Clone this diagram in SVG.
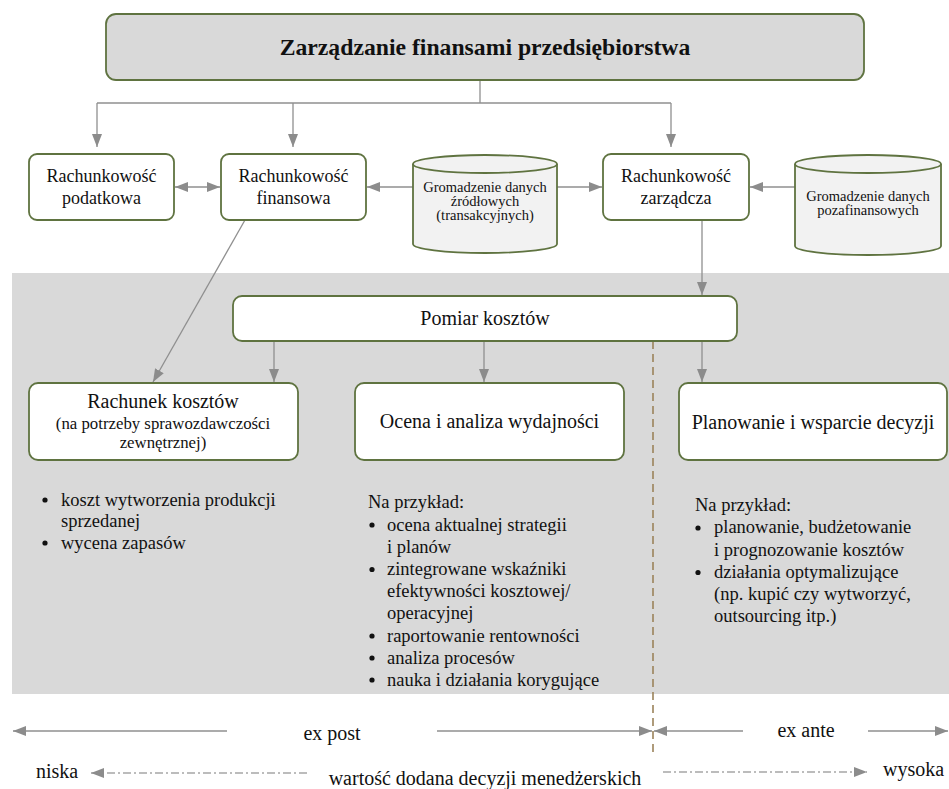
<svg xmlns="http://www.w3.org/2000/svg" width="949" height="789" viewBox="0 0 949 789" font-family="'Liberation Serif', 'DejaVu Serif', serif">
<defs>
<marker id="ah" viewBox="0 0 13 10" refX="13" refY="5" markerWidth="13" markerHeight="10" markerUnits="userSpaceOnUse" orient="auto-start-reverse">
<path d="M0,0 L13,5 L0,10 z" fill="#8c8c8c"/>
</marker>
<style>
text{font-family:'Liberation Serif','DejaVu Serif',serif;fill:#111;}
.box{fill:#fff;stroke:#5f7340;stroke-width:1.8;}
.cyl{fill:#f2f2f2;stroke:#5f7340;stroke-width:1.8;}
.c{fill:none;stroke:#8f8f8f;stroke-width:1.3;}
.dd{fill:none;stroke:#a6a6a6;stroke-width:1.3;stroke-dasharray:8 3 2 3;}
.t18{font-size:18px;text-anchor:middle;}
.t20{font-size:20px;text-anchor:middle;}
.t15{font-size:14.5px;text-anchor:middle;}
.b{font-size:18.5px;}
</style>
</defs>
<rect x="12" y="273" width="937" height="421" fill="#d9d9d9"/>

<g id="connectors">
<path class="c" d="M480,80 V103"/>
<path class="c" d="M97,103 H671"/>
<path class="c" d="M97,103 V147" marker-end="url(#ah)"/>
<path class="c" d="M293,103 V147" marker-end="url(#ah)"/>
<path class="c" d="M671,103 V147" marker-end="url(#ah)"/>
<path class="c" d="M175,187 H220" marker-start="url(#ah)" marker-end="url(#ah)"/>
<path class="c" d="M413,187 H367" marker-end="url(#ah)"/>
<path class="c" d="M557,187 H602" marker-end="url(#ah)"/>
<path class="c" d="M795,187 H750" marker-end="url(#ah)"/>
<path class="c" d="M702,220 V295" marker-end="url(#ah)"/>
<path class="c" d="M245,220 L153,382" marker-end="url(#ah)"/>
<path class="c" d="M274,341 V382" marker-end="url(#ah)"/>
<path class="c" d="M484,341 V382" marker-end="url(#ah)"/>
<path class="c" d="M702,341 V382" marker-end="url(#ah)"/>
<path d="M653,341 V752" fill="none" stroke="#9b835a" stroke-width="1.6" stroke-dasharray="8 5"/>
<path class="c" d="M227,731 H13" marker-end="url(#ah)"/>
<path class="c" d="M437,731 H652" marker-end="url(#ah)"/>
<path class="c" d="M743,731 H654" marker-end="url(#ah)"/>
<path class="c" d="M868,731 H948" marker-end="url(#ah)"/>
<path class="dd" d="M307,773 H91" marker-end="url(#ah)"/>
<path class="dd" d="M663,772 H867" marker-end="url(#ah)"/>
</g>

<g id="title">
<rect x="106" y="14" width="758" height="66" rx="10" fill="#d9d9d9" stroke="#5f7340" stroke-width="1.8"/>
<text x="485" y="55" font-size="23.7" font-weight="bold" text-anchor="middle">Zarządzanie finansami przedsiębiorstwa</text>
</g>

<g id="rach-podatkowa">
<rect class="box" x="29" y="154" width="145" height="66" rx="8"/>
<text class="t18" x="101.5" y="182">Rachunkowość</text>
<text class="t18" x="101.5" y="204">podatkowa</text>
</g>

<g id="rach-finansowa">
<rect class="box" x="221" y="154" width="145" height="66" rx="8"/>
<text class="t18" x="293.5" y="182">Rachunkowość</text>
<text class="t18" x="293.5" y="204">finansowa</text>
</g>

<g id="dane-zrodlowe">
<path class="cyl" d="M413,164 V244 A72,9 0 0 0 557,244 V164"/>
<ellipse class="cyl" cx="485" cy="164" rx="72" ry="9"/>
<text class="t15" x="485" y="192">Gromadzenie danych</text>
<text class="t15" x="485" y="206">źródłowych</text>
<text class="t15" x="485" y="220">(transakcyjnych)</text>
</g>

<g id="rach-zarzadcza">
<rect class="box" x="603" y="154" width="146" height="66" rx="8"/>
<text class="t18" x="676" y="182">Rachunkowość</text>
<text class="t18" x="676" y="204">zarządcza</text>
</g>

<g id="dane-pozafinansowe">
<path class="cyl" d="M795,164 V246 A73,9 0 0 0 941,246 V164"/>
<ellipse class="cyl" cx="868" cy="164" rx="73" ry="9"/>
<text class="t15" x="868" y="201">Gromadzenie danych</text>
<text class="t15" x="868" y="215">pozafinansowych</text>
</g>

<g id="pomiar">
<rect class="box" x="233" y="296" width="504" height="45" rx="9"/>
<text class="t20" x="485" y="325">Pomiar kosztów</text>
</g>

<g id="rachunek-kosztow">
<rect class="box" x="29" y="383" width="269" height="77" rx="9"/>
<text class="t20" x="163" y="408">Rachunek kosztów</text>
<text x="163" y="429" font-size="16.8" text-anchor="middle">(na potrzeby sprawozdawczości</text>
<text x="163" y="448" font-size="16.8" text-anchor="middle">zewnętrznej)</text>
</g>

<g id="ocena">
<rect class="box" x="355" y="383" width="269" height="77" rx="9"/>
<text class="t20" x="489.5" y="428">Ocena i analiza wydajności</text>
</g>

<g id="planowanie">
<rect class="box" x="679" y="383" width="268" height="77" rx="9"/>
<text class="t20" x="813" y="429">Planowanie i wsparcie decyzji</text>
</g>

<g id="lista-lewa">
<circle cx="45" cy="500" r="2.6" fill="#111"/>
<circle cx="45" cy="543" r="2.6" fill="#111"/>
<text class="b" x="61" y="505.5">koszt wytworzenia produkcji</text>
<text class="b" x="61" y="527">sprzedanej</text>
<text class="b" x="61" y="549">wycena zapasów</text>
</g>

<g id="lista-srodkowa">
<text class="b" x="368" y="508">Na przykład:</text>
<circle cx="372" cy="525" r="2.6" fill="#111"/>
<circle cx="372" cy="569.5" r="2.6" fill="#111"/>
<circle cx="372" cy="636" r="2.6" fill="#111"/>
<circle cx="372" cy="658" r="2.6" fill="#111"/>
<circle cx="372" cy="680" r="2.6" fill="#111"/>
<text class="b" x="387" y="530.5">ocena aktualnej strategii</text>
<text class="b" x="387" y="552.5">i planów</text>
<text class="b" x="387" y="575">zintegrowane wskaźniki</text>
<text class="b" x="387" y="597">efektywności kosztowej/</text>
<text class="b" x="387" y="619">operacyjnej</text>
<text class="b" x="387" y="641.5">raportowanie rentowności</text>
<text class="b" x="387" y="663.5">analiza procesów</text>
<text class="b" x="387" y="685.5">nauka i działania korygujące</text>
</g>

<g id="lista-prawa">
<text class="b" x="695" y="510.5">Na przykład:</text>
<circle cx="698" cy="528" r="2.6" fill="#111"/>
<circle cx="698" cy="572.5" r="2.6" fill="#111"/>
<text class="b" x="714" y="533">planowanie, budżetowanie</text>
<text class="b" x="714" y="555.5">i prognozowanie kosztów</text>
<text class="b" x="714" y="577.5">działania optymalizujące</text>
<text class="b" x="714" y="600">(np. kupić czy wytworzyć,</text>
<text class="b" x="714" y="622">outsourcing itp.)</text>
</g>

<g id="os-czasu">
<text class="t20" x="332" y="740">ex post</text>
<text class="t20" x="806" y="737">ex ante</text>
</g>

<g id="os-wartosci">
<text x="36" y="778" font-size="20">niska</text>
<text class="t20" x="485" y="785">wartość dodana decyzji menedżerskich</text>
<text x="883" y="776" font-size="20">wysoka</text>
</g>
</svg>
